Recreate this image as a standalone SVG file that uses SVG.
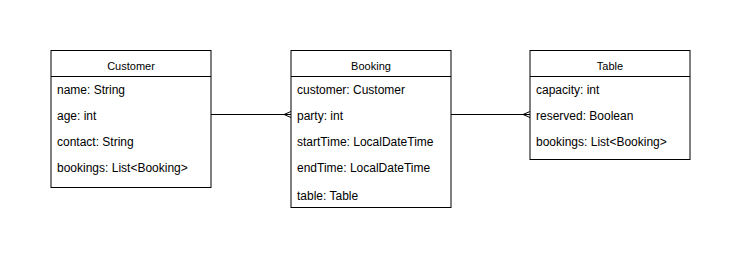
<svg xmlns="http://www.w3.org/2000/svg" width="741" height="262" viewBox="0 0 741 262">
  <style>
    .box { fill: #ffffff; stroke: #000000; stroke-width: 1; }
    .div { stroke: #000000; stroke-width: 1; }
    .title { font-family: "Liberation Sans", Arial, sans-serif; font-size: 11px; fill: #000000; text-anchor: middle; }
    .attr { font-family: "Liberation Sans", Arial, sans-serif; font-size: 12px; fill: #000000; }
    .edge { fill: none; stroke: #000000; stroke-width: 1; }
  </style>
  <rect width="741" height="262" fill="#ffffff"/>

  <g id="connectors">
    <!-- Customer 1 .. * Booking -->
    <path class="edge" d="M211 114.5 H291"/>
    <path class="edge" d="M291 111.5 L284 114.5 L291 117.5"/>
    <!-- Booking 1 .. * Table -->
    <path class="edge" d="M451 114.5 H530"/>
    <path class="edge" d="M530 111.5 L523 114.5 L530 117.5"/>
  </g>

  <g id="customer">
    <rect class="box" x="51" y="50.5" width="160" height="137"/>
    <line class="div" x1="51" y1="76.5" x2="211" y2="76.5"/>
    <text class="title" x="131" y="69.5">Customer</text>
    <text class="attr" x="57" y="94">name: String</text>
    <text class="attr" x="57" y="120">age: int</text>
    <text class="attr" x="57" y="146">contact: String</text>
    <text class="attr" x="57" y="172">bookings: List&lt;Booking&gt;</text>
  </g>

  <g id="booking">
    <rect class="box" x="291" y="50.5" width="160" height="157"/>
    <line class="div" x1="291" y1="76.5" x2="451" y2="76.5"/>
    <text class="title" x="371" y="69.5">Booking</text>
    <text class="attr" x="297" y="94">customer: Customer</text>
    <text class="attr" x="297" y="120">party: int</text>
    <text class="attr" x="297" y="146">startTime: LocalDateTime</text>
    <text class="attr" x="297" y="172">endTime: LocalDateTime</text>
    <text class="attr" x="297" y="199.5">table: Table</text>
  </g>

  <g id="table">
    <rect class="box" x="530" y="50.5" width="160" height="109"/>
    <line class="div" x1="530" y1="76.5" x2="690" y2="76.5"/>
    <text class="title" x="610" y="69.5">Table</text>
    <text class="attr" x="536" y="94">capacity: int</text>
    <text class="attr" x="536" y="120">reserved: Boolean</text>
    <text class="attr" x="536" y="146">bookings: List&lt;Booking&gt;</text>
  </g>
</svg>
